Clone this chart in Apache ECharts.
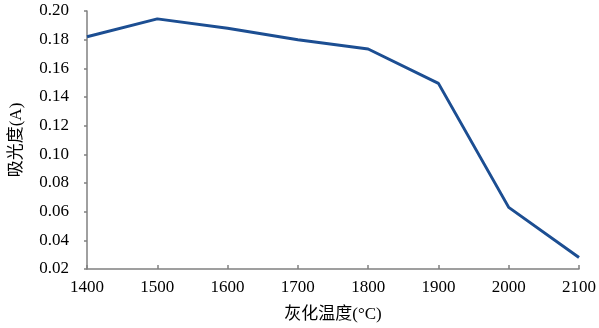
<!DOCTYPE html>
<html>
<head>
<meta charset="utf-8">
<script src="https://cdn.jsdelivr.net/npm/echarts@6/dist/echarts.min.js"></script>
<style>
  html, body { margin: 0; padding: 0; background: #fff; }
  #chart { width: 599px; height: 328px; }
</style>
</head>
<body>
<div id="chart"></div>
<script>
// données
const temperatures = [1400, 1500, 1600, 1700, 1800, 1900, 2000, 2100];
const absorbance = [0.182, 0.1945, 0.188, 0.180, 0.1735, 0.1495, 0.063, 0.028];

const serif = '"Liberation Serif", "Times New Roman", "Noto Sans CJK SC", serif';

const chart = echarts.init(document.getElementById('chart'), null, { renderer: 'canvas' });

const option = {
  animation: false,
  grid: { left: 82, right: 18, top: 11, bottom: 57, containLabel: false },
  xAxis: {
    type: 'value',
    min: 1400,
    max: 2100,
    interval: 100,
    name: '灰化温度(°C)',
    nameLocation: 'middle',
    nameGap: 37,
    nameTextStyle: { fontFamily: serif, fontSize: 17, color: '#000' },
    axisLine: { lineStyle: { color: '#808080', width: 1.5 } },
    axisTick: { inside: true, length: 4, lineStyle: { color: '#808080', width: 1.5 } },
    axisLabel: {
      fontFamily: serif, fontSize: 17, color: '#000', margin: 10,
      formatter: v => String(v)
    },
    splitLine: { show: false }
  },
  yAxis: {
    type: 'value',
    min: 0.02,
    max: 0.20,
    interval: 0.02,
    name: '吸光度(A)',
    nameLocation: 'middle',
    nameGap: 62,
    nameTextStyle: { fontFamily: serif, fontSize: 17, color: '#000' },
    axisLine: { show: true, lineStyle: { color: '#808080', width: 1.5 } },
    axisTick: { show: true, length: 3, lineStyle: { color: '#808080', width: 1.5 } },
    axisLabel: {
      fontFamily: serif, fontSize: 17, color: '#000', margin: 18,
      formatter: v => v.toFixed(2)
    },
    splitLine: { show: false }
  },
  series: [{
    type: 'line',
    data: temperatures.map((t, i) => [t, absorbance[i]]),
    symbol: 'none',
    lineStyle: { color: '#1c4e92', width: 3 }
  }]
};

chart.setOption(option);
</script>
</body>
</html>
